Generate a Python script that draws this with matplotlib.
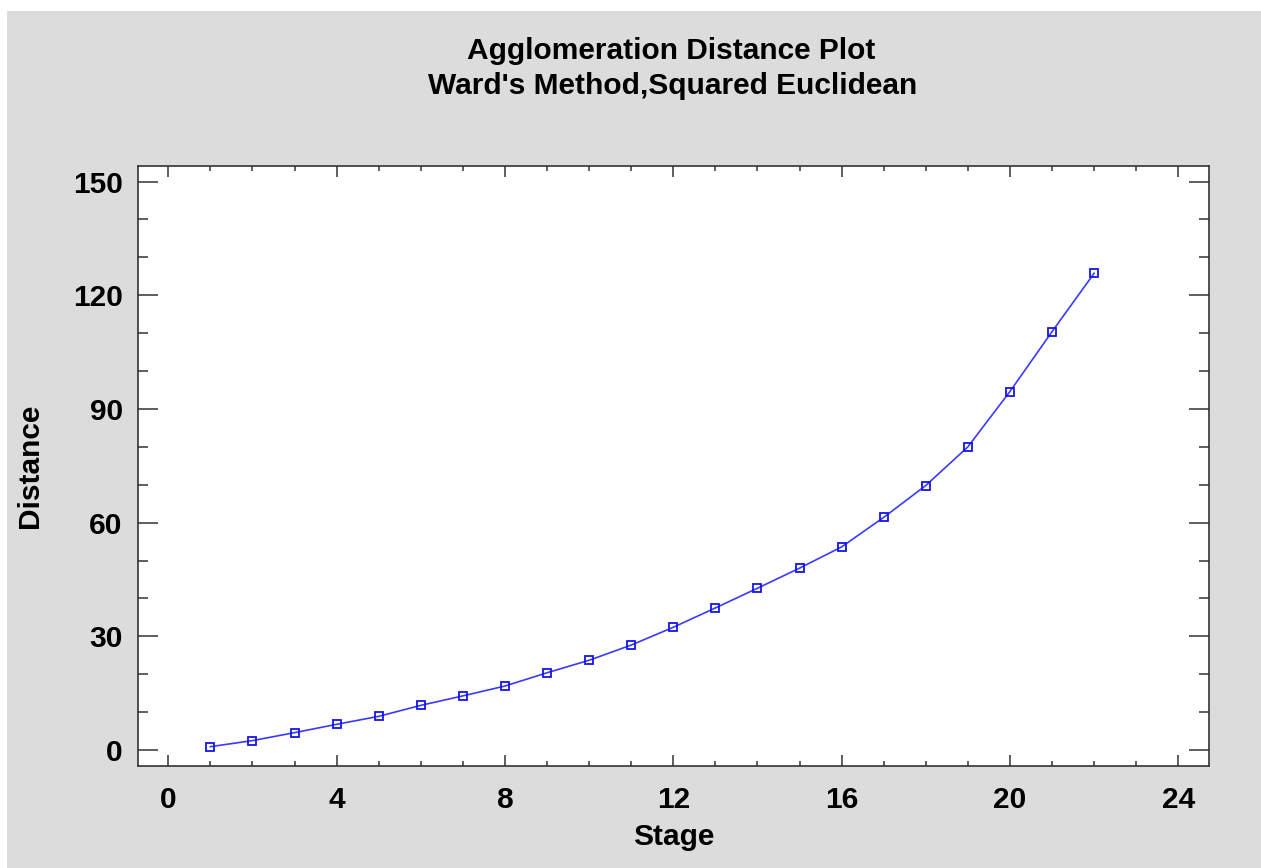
import matplotlib
matplotlib.use('Agg')
from matplotlib import pyplot as plt
from matplotlib.patches import Rectangle
from matplotlib.ticker import MultipleLocator

# agglomeration schedule
stage = [1, 2, 3, 4, 5, 6, 7, 8, 9, 10, 11,
         12, 13, 14, 15, 16, 17, 18, 19, 20, 21, 22]
distance = [0.9, 2.5, 4.6, 6.8, 8.9, 11.8, 14.3, 16.9, 20.4, 23.7, 27.7,
            32.4, 37.5, 42.7, 48.0, 53.6, 61.4, 69.8, 80.0, 94.6, 110.4, 125.8]

title_lines = ["Agglomeration Distance Plot", "Ward's Method,Squared Euclidean"]
x_label = "Stage"
y_label = "Distance"

plt.rcParams['font.family'] = ['Liberation Sans', 'DejaVu Sans']
plt.rcParams['font.weight'] = 'bold'
fs = 21.5

fig = plt.figure(figsize=(12.61, 8.68), dpi=100, facecolor='white')
# grey panel, with a thin white margin top/left like the screenshot
fig.patches.append(Rectangle((7 / 1261, 0), 1, 1 - 11 / 868,
                             transform=fig.transFigure, facecolor='#dcdcdc',
                             edgecolor='none', zorder=-10))

ax = fig.add_axes([138 / 1261, 102 / 868, 1071 / 1261, 600 / 868])
ax.set_facecolor('white')

ax.plot(stage, distance, color='#3a3aff', lw=1.2, marker='s', ms=5.5,
        mfc='none', mec='#1515e8', mew=1.3)

ax.set_xlim(-0.72, 24.73)
ax.set_ylim(-4.2, 154.1)
ax.xaxis.set_major_locator(MultipleLocator(4))
ax.xaxis.set_minor_locator(MultipleLocator(1))
ax.yaxis.set_major_locator(MultipleLocator(30))
ax.yaxis.set_minor_locator(MultipleLocator(10))

ax.tick_params(axis='both', which='both', direction='in', top=True, right=True,
               color='#333333', width=1.1, labelsize=fs)
ax.tick_params(axis='x', which='major', length=8, pad=14.5)
ax.tick_params(axis='x', which='minor', length=3.6)
ax.tick_params(axis='y', which='major', length=14.4, pad=11)
ax.tick_params(axis='y', which='minor', length=7.2)
for lab in ax.get_xticklabels() + ax.get_yticklabels():
    lab.set_fontweight('bold')

for s in ax.spines.values():
    s.set_color('#333333')
    s.set_linewidth(1.2)

ax.set_xlabel(x_label, fontsize=fs, fontweight='bold')
ax.xaxis.set_label_coords(0.5, -0.095)
ax.set_ylabel(y_label, fontsize=fs, fontweight='bold')
ax.yaxis.set_label_coords(-0.088, 0.5)

fig.text(671 / 1261, 1 - 59 / 868, title_lines[0], ha='center', va='baseline',
         fontsize=fs, fontweight='bold')
fig.text(673 / 1261, 1 - 94 / 868, title_lines[1], ha='center', va='baseline',
         fontsize=fs, fontweight='bold')

fig.savefig('out.png', dpi=100, facecolor='white')
